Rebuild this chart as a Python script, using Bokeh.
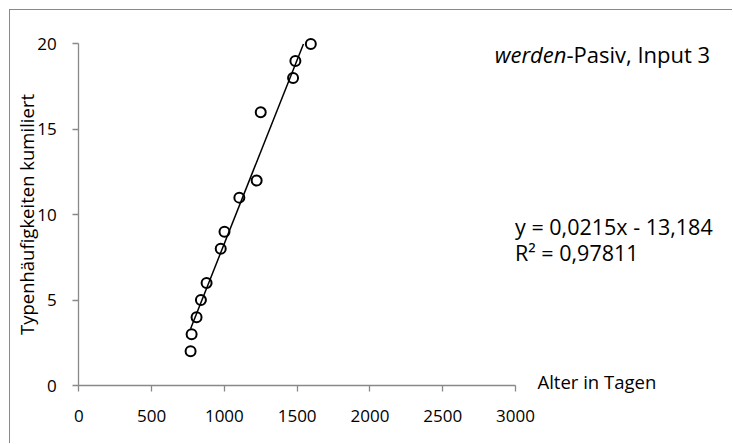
from bokeh.plotting import figure
from bokeh.models import Range1d, Label, FixedTicker
from bokeh.embed import file_html
from bokeh.resources import INLINE

# ---- data ----
age_days = [768, 775, 809, 839, 878, 975, 1001, 1103, 1222, 1250, 1472, 1488, 1594]
types_cum = [2, 3, 4, 5, 6, 8, 9, 11, 12, 16, 18, 19, 20]
x_ticks = [0, 500, 1000, 1500, 2000, 2500, 3000]
y_ticks = [0, 5, 10, 15, 20]
slope = 0.0215
intercept = -13.184
equation_text = "y = 0,0215x - 13,184"
r2_text = "R² = 0,97811"
title_italic = "werden"
title_rest = "-Pasiv, Input 3"
x_title = "Alter in Tagen"
y_title = "Typenhäufigkeiten kumiliert"

FONT = "Open Sans"
GRAY = "#898989"

y_max = y_ticks[-1]
x_axis_max = x_ticks[-1]

p = figure(width=723, height=434,
           x_range=Range1d(-469.2, 4497.8), y_range=Range1d(-3.454, 21.956),
           output_backend="svg", toolbar_location=None,
           min_border_left=0, min_border_bottom=0,
           min_border_top=0, min_border_right=0,
           styles={"margin-left": "9px", "margin-top": "9px",
                   "border-left": "1px solid " + GRAY,
                   "border-top": "1px solid " + GRAY})
p.xgrid.visible = False
p.ygrid.visible = False
p.outline_line_color = None
p.background_fill_color = "white"
p.border_fill_color = "white"

for ax, ticks, bnds in ((p.xaxis[0], x_ticks, (0, x_axis_max)), (p.yaxis[0], y_ticks, (0, y_max))):
    ax.fixed_location = 0
    ax.ticker = FixedTicker(ticks=ticks)
    ax.bounds = bnds
    ax.axis_line_color = GRAY
    ax.axis_line_width = 1.3
    ax.major_tick_line_color = GRAY
    ax.major_tick_line_width = 1.3
    ax.major_tick_out = 6
    ax.major_tick_in = 0
    ax.minor_tick_line_color = None
    ax.major_label_text_font = FONT
    ax.major_label_text_font_size = "17px"
    ax.major_label_text_color = "black"

p.xaxis[0].major_label_standoff = 18
p.yaxis[0].major_label_standoff = 16
p.yaxis[0].axis_label = y_title
p.yaxis[0].axis_label_text_font = FONT
p.yaxis[0].axis_label_text_font_style = "normal"
p.yaxis[0].axis_label_text_font_size = "18.5px"
p.yaxis[0].axis_label_text_color = "black"
p.yaxis[0].axis_label_standoff = -5

# linear trend line (clipped at the top of the y axis)
x0 = min(age_days)
x1 = min(max(age_days), (y_max - intercept) / slope)
p.line([x0, x1], [slope * x0 + intercept, slope * x1 + intercept],
       line_color="black", line_width=1.5)

p.scatter(age_days, types_cum, marker="circle", size=10,
          fill_color=None, line_color="black", line_width=2)

p.add_layout(Label(x=3350, y=19.4, text=title_italic, text_align="right",
                   text_baseline="middle", text_font=FONT, text_font_style="italic",
                   text_font_size="22px", text_color="black"))
p.add_layout(Label(x=3350, y=19.4, text=title_rest, text_align="left",
                   text_baseline="middle", text_font=FONT,
                   text_font_size="22px", text_color="black"))
p.add_layout(Label(x=2997, y=9.31, text=equation_text, text_align="left",
                   text_baseline="middle", text_font=FONT,
                   text_font_size="21.5px", text_color="black"))
p.add_layout(Label(x=2997, y=7.79, text=r2_text, text_align="left",
                   text_baseline="middle", text_font=FONT,
                   text_font_size="21.5px", text_color="black"))
p.add_layout(Label(x=3151, y=0.23, text=x_title, text_align="left",
                   text_baseline="middle", text_font=FONT,
                   text_font_size="18.5px", text_color="black"))

open("out.html", "w").write(file_html(p, INLINE))
